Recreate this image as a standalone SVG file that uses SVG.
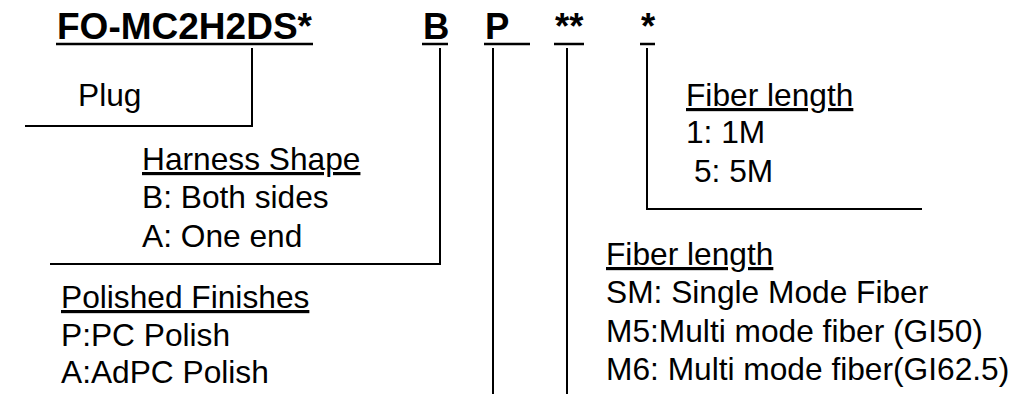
<svg xmlns="http://www.w3.org/2000/svg" width="1021" height="394" viewBox="0 0 1021 394">
<style>
.t{font-family:"Liberation Sans",Arial,sans-serif;font-size:31.7px;fill:#000}
.b{font-family:"Liberation Sans",Arial,sans-serif;font-size:36.5px;font-weight:bold;fill:#000}
.u{text-decoration:underline}
.c{fill:none;stroke:#000;stroke-width:2}
</style>
<rect width="1021" height="394" fill="#fff"/>
<g id="code">
<text class="b" x="57" y="39" textLength="255" lengthAdjust="spacingAndGlyphs">FO-MC2H2DS*</text>
<text class="b" x="423" y="39">B</text>
<text class="b" x="485" y="39">P</text>
<text class="b" x="555" y="39">**</text>
<text class="b" x="641" y="39">*</text>
<g class="c" style="stroke-width:2.5">
<line x1="56" y1="44" x2="313" y2="44"/>
<line x1="422" y1="44" x2="448" y2="44"/>
<line x1="484" y1="44" x2="530" y2="44"/>
<line x1="554" y1="44" x2="584" y2="44"/>
<line x1="640" y1="44" x2="655" y2="44"/>
</g>
</g>
<g id="connectors" class="c">
<path d="M252,48 V126 H25"/>
<path d="M440,48 V264 H50"/>
<path d="M493,48 V394"/>
<path d="M567,48 V394"/>
<path d="M647,48 V209 H922"/>
</g>
<g id="plug">
<text class="t" x="78" y="106">Plug</text>
</g>
<g id="harness">
<text class="t u" x="142" y="170">Harness Shape</text>
<text class="t" x="142" y="208">B: Both sides</text>
<text class="t" x="142" y="247">A: One end</text>
</g>
<g id="polish">
<text class="t u" x="61" y="308">Polished Finishes</text>
<text class="t" x="61" y="346">P:PC Polish</text>
<text class="t" x="61" y="383">A:AdPC Polish</text>
</g>
<g id="length">
<text class="t u" x="686" y="106">Fiber length</text>
<text class="t" x="686" y="143">1: 1M</text>
<text class="t" x="694" y="182">5: 5M</text>
</g>
<g id="fiber">
<text class="t u" x="606" y="265">Fiber length</text>
<text class="t" x="606" y="303">SM: Single Mode Fiber</text>
<text class="t" x="606" y="342">M5:Multi mode fiber (GI50)</text>
<text class="t" x="606" y="380">M6: Multi mode fiber(GI62.5)</text>
</g>
</svg>
